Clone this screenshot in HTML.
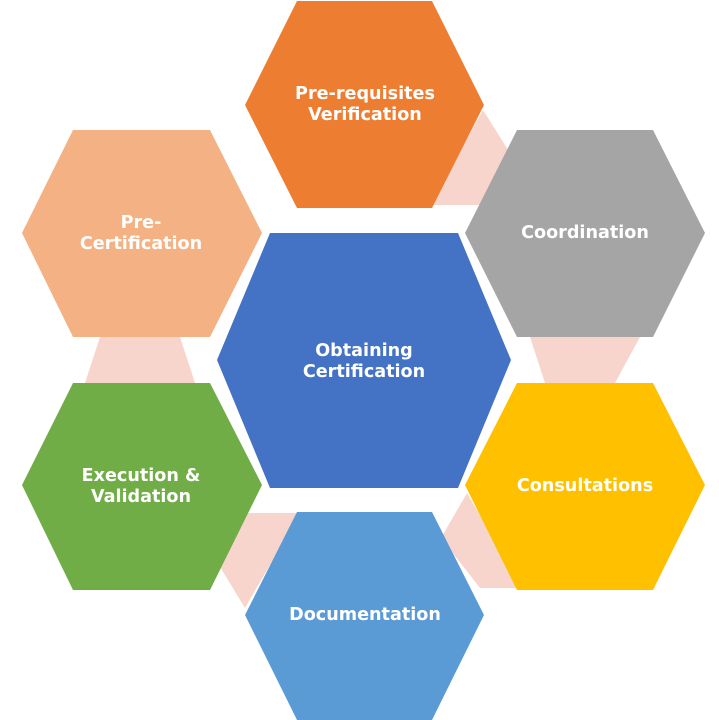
<!DOCTYPE html>
<html><head><meta charset="utf-8"><style>body{margin:0;background:#fff}svg{display:block}text{font-family:"DejaVu Sans","Liberation Sans",sans-serif;font-weight:bold;font-size:17.6px;fill:#fff;text-anchor:middle}</style></head>
<body>
<svg width="719" height="720" viewBox="0 0 719 720">
<g fill="#F8D5CC">
<polygon points="483,110 510,153 480,205 430,205"/>
<polygon points="100,337 180,337 195,383 85,383"/>
<polygon points="530,337 640,337 615,383 545,383"/>
<polygon points="467,493 522,588 480,588 441,538"/>
<polygon points="248,513 300,513 245,608 220,567"/>
</g>
<polygon fill="#ED7D31" points="245,105 297,1 432,1 484,105 432,208 297,208"/>
<polygon fill="#A5A5A5" points="465,233 517,130 653,130 705,233 653,337 517,337"/>
<polygon fill="#FFC000" points="465,485 517,383 653,383 705,485 653,590 517,590"/>
<polygon fill="#5B9BD5" points="245,615 297,512 432,512 484,615 432,720 297,720"/>
<polygon fill="#70AD47" points="22,485 73,383 210,383 262,485 210,590 73,590"/>
<polygon fill="#F4B183" points="22,233 73,130 210,130 262,233 210,337 73,337"/>
<polygon fill="#4472C4" points="217,360 270,233 458,233 511,360 458,488 270,488"/>
<text x="365" y="99">Pre-requisites</text><text x="365" y="120">Verification</text>
<text x="585" y="238">Coordination</text>
<text x="585" y="491">Consultations</text>
<text x="365" y="620">Documentation</text>
<text x="141" y="481">Execution &amp;</text><text x="141" y="502">Validation</text>
<text x="141" y="228">Pre-</text><text x="141" y="249">Certification</text>
<text x="364" y="356">Obtaining</text><text x="364" y="377">Certification</text>
</svg>
</body></html>
